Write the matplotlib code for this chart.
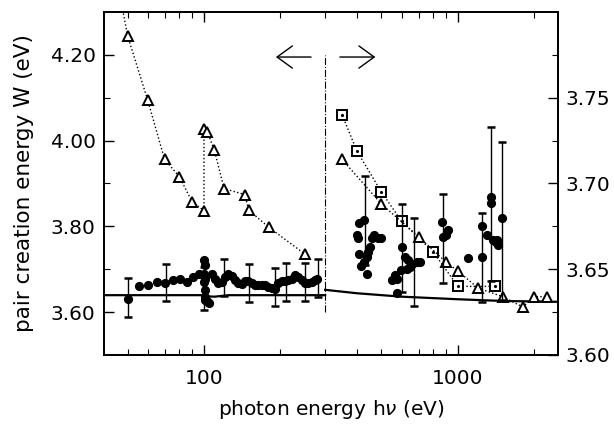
import matplotlib
matplotlib.use("Agg")
import matplotlib.pyplot as plt
from matplotlib.ticker import FixedLocator, NullFormatter, LogLocator

# ---------------- data (left axis, hv < 300 eV) ----------------
left_tri_x = [45, 50, 60, 70, 80, 90, 100, 100, 103, 110, 120, 145, 150, 180, 250]
left_tri_y = [4.39, 4.245, 4.095, 3.956, 3.916, 3.856, 3.837, 4.026, 4.021, 3.977,
              3.888, 3.874, 3.838, 3.798, 3.735]

left_dot_x = [50, 55.5, 60.3, 65.5, 70.4, 75.7, 80.4, 85.5, 90.7, 95.6,
              100, 100.5, 100, 101, 100, 100.5, 101, 100.5, 103, 105,
              107.2, 110.5, 113.8, 117.4, 121, 124.7, 128.6, 132.5, 136.5, 140.8,
              145, 149.5, 154.1, 158.7, 163.5, 168.6, 173.8, 179, 184.7, 190.4,
              196, 202, 208.5, 214.8, 221.5, 228, 235, 242.5, 250, 257.5,
              265.5, 273.5, 279]
left_dot_y = [3.630, 3.660, 3.663, 3.670, 3.669, 3.674, 3.677, 3.670, 3.681, 3.688,
              3.721, 3.709, 3.690, 3.678, 3.670, 3.651, 3.636, 3.628, 3.625, 3.622,
              3.690, 3.678, 3.668, 3.670, 3.682, 3.688, 3.684, 3.676, 3.667, 3.665,
              3.673, 3.673, 3.667, 3.663, 3.663, 3.663, 3.663, 3.659, 3.657, 3.655,
              3.667, 3.673, 3.673, 3.676, 3.678, 3.686, 3.682, 3.676, 3.669, 3.669,
              3.670, 3.674, 3.678]

left_err_x = [50, 70.7, 100, 120, 150, 191, 210, 250, 281]
left_err_y = [3.634, 3.669, 3.655, 3.681, 3.668, 3.658, 3.670, 3.670, 3.679]
left_err_e = [0.0455, 0.044, 0.05, 0.044, 0.044, 0.044, 0.044, 0.044, 0.044]

left_curve_x = [40, 100, 101, 110, 125, 300]
left_curve_y = [3.6395, 3.6395, 3.637, 3.636, 3.6395, 3.6395]

# ---------------- data (right axis, hv > 300 eV) ----------------
right_tri_x = [350, 500, 700, 900, 1000, 1200, 1500, 1800, 2000, 2250]
right_tri_y = [3.714, 3.688, 3.669, 3.654, 3.649, 3.639, 3.634, 3.628, 3.634, 3.634]

right_sq_x = [350, 400, 500, 600, 800, 1000, 1400]
right_sq_y = [3.740, 3.719, 3.695, 3.678, 3.660, 3.640, 3.640]

right_dot_x = [427, 409, 400, 405, 457, 468, 486, 500, 409, 443, 437, 427, 417, 439, 450,
               548, 565, 573, 596, 619, 637, 660, 688, 708, 647, 628, 573, 600,
               863, 875, 897, 916, 1098,
               1240, 1240, 1345, 1345, 1490, 1297, 1377, 1412, 1441, 1420]
right_dot_y = [3.6785, 3.677, 3.670, 3.668, 3.668, 3.670, 3.668, 3.668, 3.659, 3.660,
               3.657, 3.654, 3.652, 3.647, 3.663,
               3.6436, 3.6465, 3.6446, 3.6494, 3.6572, 3.6552, 3.6533, 3.6542, 3.6542,
               3.6513, 3.6504, 3.6359, 3.663,
               3.6775, 3.6688, 3.6698, 3.6727, 3.6566,
               3.675, 3.6572, 3.6924, 3.6885, 3.680, 3.6698, 3.6669, 3.6659, 3.664, 3.6673]

right_err_x = [430, 600, 673, 875, 1240, 1345, 1490]
right_err_y = [3.6785, 3.6625, 3.654, 3.668, 3.657, 3.688, 3.678]
right_err_e = [0.026, 0.0257, 0.0257, 0.0258, 0.026, 0.045, 0.046]

right_curve_x = [300, 400, 600, 1000, 1500, 2500]
right_curve_y = [3.638, 3.636, 3.634, 3.6325, 3.6315, 3.631]

boundary_x = 300

# ---------------- figure ----------------
fig = plt.figure(figsize=(6.14, 4.26), dpi=100)
ax = fig.add_axes([0.1694, 0.1667, 0.7394, 0.8051])
ax2 = ax.twinx()

ax.set_xscale('log')
ax.set_xlim(40.4, 2478)
ax.set_ylim(3.50, 4.30)
ax2.set_ylim(3.60, 3.80)

fs = 14.5

# left data
ax.plot(left_curve_x, left_curve_y, color='black', lw=1.6)
ax.plot(left_tri_x, left_tri_y, linestyle=':', color='black', lw=1.0,
        marker='^', markersize=6.5, markerfacecolor='white', markeredgecolor='black',
        markeredgewidth=1.4, clip_on=True)
ax.errorbar(left_err_x, left_err_y, yerr=left_err_e, fmt='none', ecolor='black',
            elinewidth=1.0, capsize=2.8, capthick=1.8)
ax.plot(left_dot_x, left_dot_y, linestyle='none', marker='o', markersize=5.6,
        color='black')
ax.plot([boundary_x, boundary_x], [3.60, 4.20], linestyle='-.', color='black', lw=0.8)

# right data
ax2.plot(right_curve_x, right_curve_y, color='black', lw=1.6)
ax2.plot(right_sq_x, right_sq_y, linestyle=':', color='black', lw=1.0,
         marker='s', markersize=6.5, markerfacecolor='white', markeredgecolor='black',
         markeredgewidth=1.4)
ax2.plot(right_sq_x, right_sq_y, linestyle='none', marker='.', markersize=2.5,
         color='black')
ax2.plot(right_tri_x, right_tri_y, linestyle=':', color='black', lw=1.0,
         marker='^', markersize=6.5, markerfacecolor='white', markeredgecolor='black',
         markeredgewidth=1.4)
ax2.errorbar(right_err_x, right_err_y, yerr=right_err_e, fmt='none', ecolor='black',
             elinewidth=1.0, capsize=2.8, capthick=1.8)
ax2.plot(right_dot_x, right_dot_y, linestyle='none', marker='o', markersize=5.6,
         color='black')

# arrows
arrow_props = dict(arrowstyle='->,head_length=0.55,head_width=0.4', color='black',
                   lw=1.0, mutation_scale=20, shrinkA=0, shrinkB=0)
ax.annotate('', xy=(192, 4.195), xytext=(264, 4.195), arrowprops=arrow_props)
ax.annotate('', xy=(473, 4.195), xytext=(343, 4.195), arrowprops=arrow_props)

# ticks
ax.xaxis.set_major_locator(FixedLocator([100, 1000]))
ax.set_xticklabels(['100', '1000'])
ax.xaxis.set_minor_locator(LogLocator(base=10, subs=range(2, 10)))
ax.xaxis.set_minor_formatter(NullFormatter())
ax.yaxis.set_major_locator(FixedLocator([3.60, 3.80, 4.00, 4.20]))
ax.set_yticklabels(['3.60', '3.80', '4.00', '4.20'])
ax.yaxis.set_minor_locator(FixedLocator([3.70, 3.90, 4.10]))
ax2.yaxis.set_major_locator(FixedLocator([3.60, 3.65, 3.70, 3.75]))
ax2.set_yticklabels(['3.60', '3.65', '3.70', '3.75'])
ax2.yaxis.set_minor_locator(FixedLocator([3.625, 3.675, 3.725, 3.775]))

ax.tick_params(which='both', direction='in', top=True, bottom=True, left=True,
               right=False, labelsize=fs)
ax.tick_params(axis='y', pad=6)
ax.tick_params(axis='x', pad=10)
ax.tick_params(which='major', length=7, width=1.0)
ax.tick_params(which='minor', length=4, width=0.8)
ax2.tick_params(which='both', direction='in', right=True, labelsize=fs, pad=5)
ax2.tick_params(which='major', length=7, width=1.0)
ax2.tick_params(which='minor', length=4, width=0.8)

for a in (ax, ax2):
    for s in a.spines.values():
        s.set_linewidth(1.3)

ax.set_xlabel('photon energy h$\\nu$ (eV)', fontsize=fs)
ax.xaxis.set_label_coords(0.5, -0.125)
ax.xaxis.label.set_va('top')
ax.set_ylabel('pair creation energy W (eV)', fontsize=15.5)
ax.yaxis.set_label_coords(-0.155, 0.5)

fig.savefig('out.png', dpi=100)
